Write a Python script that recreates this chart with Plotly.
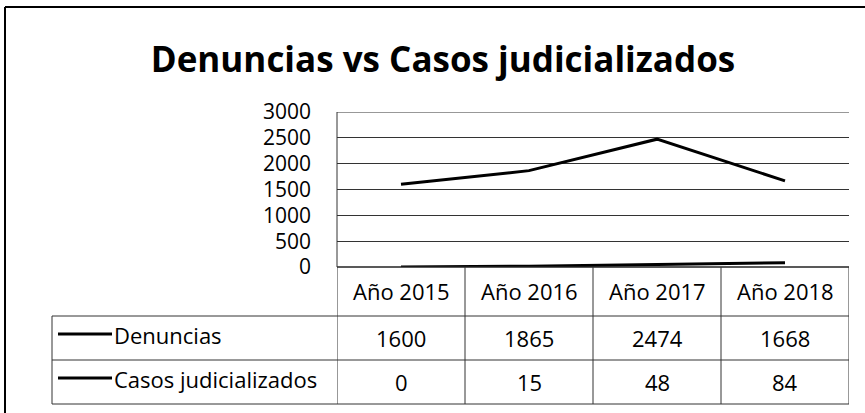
import plotly.graph_objects as go

categories = ["Año 2015", "Año 2016", "Año 2017", "Año 2018"]
denuncias = [1600, 1865, 2474, 1668]
casos = [0, 15, 48, 84]
series_names = ["Denuncias", "Casos judicializados"]
y_ticks = [0, 500, 1000, 1500, 2000, 2500, 3000]

W, H = 865, 413
FONT = "Open Sans"
FS = 22

def px(x):
    return x / W

def py(y):
    return 1 - y / H

plot_l, plot_r, plot_t, plot_b = 337, 849, 112, 267
row_lines = [267, 316, 360, 404]
legend_l = 52

fig = go.Figure()
for name, vals in zip(series_names, [denuncias, casos]):
    fig.add_trace(go.Scatter(x=categories, y=vals, mode="lines", name=name,
                             line=dict(color="black", width=3), showlegend=False))

shapes = []
# outer border: only left and top edges are within the picture
shapes.append(dict(type="line", xref="paper", yref="paper", x0=px(5), x1=px(5),
                   y0=0, y1=py(7), line=dict(color="black", width=2)))
shapes.append(dict(type="line", xref="paper", yref="paper", x0=px(5), x1=1,
                   y0=py(7), y1=py(7), line=dict(color="black", width=2)))
# top gridline at the axis maximum
shapes.append(dict(type="line", xref="paper", yref="y", x0=px(plot_l), x1=px(plot_r),
                   y0=y_ticks[-1], y1=y_ticks[-1], line=dict(color="#333", width=1)))
# table horizontal lines
shapes.append(dict(type="line", xref="paper", yref="paper", x0=px(plot_l), x1=px(plot_r),
                   y0=py(267), y1=py(267), line=dict(color="#222", width=1.5)))
for yl in row_lines[1:]:
    shapes.append(dict(type="line", xref="paper", yref="paper", x0=px(legend_l), x1=px(plot_r),
                       y0=py(yl), y1=py(yl), line=dict(color="#333", width=1)))
# column boundaries from the category axis
n = len(categories)
for i in range(n + 1):
    shapes.append(dict(type="line", xref="x", yref="paper", x0=i - 0.5, x1=i - 0.5,
                       y0=py(row_lines[-1]), y1=py(row_lines[0]),
                       line=dict(color="#333", width=1)))
# left axis line
shapes.append(dict(type="line", xref="paper", yref="paper", x0=px(plot_l), x1=px(plot_l),
                   y0=py(plot_b), y1=py(plot_t), line=dict(color="#333", width=1)))
# legend column left border
shapes.append(dict(type="line", xref="paper", yref="paper", x0=px(legend_l), x1=px(legend_l),
                   y0=py(404), y1=py(316), line=dict(color="#333", width=1)))

annotations = []
for c in categories:
    annotations.append(dict(x=c, y=py(291), xref="x", yref="paper", text=c, showarrow=False,
                            font=dict(family=FONT, size=FS, color="black"),
                            xanchor="center", yanchor="middle"))
row_centers = [338, 382]
for name, vals, yc in zip(series_names, [denuncias, casos], row_centers):
    shapes.append(dict(type="line", xref="paper", yref="paper", x0=px(58), x1=px(112),
                       y0=py(yc - 4), y1=py(yc - 4), line=dict(color="black", width=3)))
    annotations.append(dict(x=px(112), y=py(yc - 3), xref="paper", yref="paper", text=name,
                            showarrow=False, font=dict(family=FONT, size=FS, color="black"),
                            xanchor="left", yanchor="middle"))
    for c, v in zip(categories, vals):
        annotations.append(dict(x=c, y=py(yc), xref="x", yref="paper", text=str(v),
                                showarrow=False, font=dict(family=FONT, size=FS, color="black"),
                                xanchor="center", yanchor="middle"))

fig.update_layout(
    width=W, height=H,
    margin=dict(l=0, r=0, t=0, b=0, pad=0, autoexpand=False),
    paper_bgcolor="white", plot_bgcolor="white",
    title=dict(text="<b>Denuncias vs Casos judicializados</b>", x=px(443), y=py(60),
               xanchor="center", yanchor="middle", automargin=False,
               font=dict(family=FONT, size=35, color="black")),
    xaxis=dict(domain=[px(plot_l), px(plot_r)], range=[-0.5, n - 0.5], showticklabels=False,
               showgrid=False, zeroline=False, showline=False, fixedrange=True, automargin=False),
    yaxis=dict(domain=[py(plot_b), py(plot_t)], range=[0, 3000], tickvals=y_ticks,
               showgrid=True, gridcolor="#333", gridwidth=1, zeroline=False, showline=False,
               ticks="", ticklabelstandoff=25, automargin=False,
               tickfont=dict(family=FONT, size=21, color="black")),
    shapes=shapes, annotations=annotations,
)

fig.write_html("out.html", config={"displayModeBar": False},
               post_script="document.body.style.margin='0';")
